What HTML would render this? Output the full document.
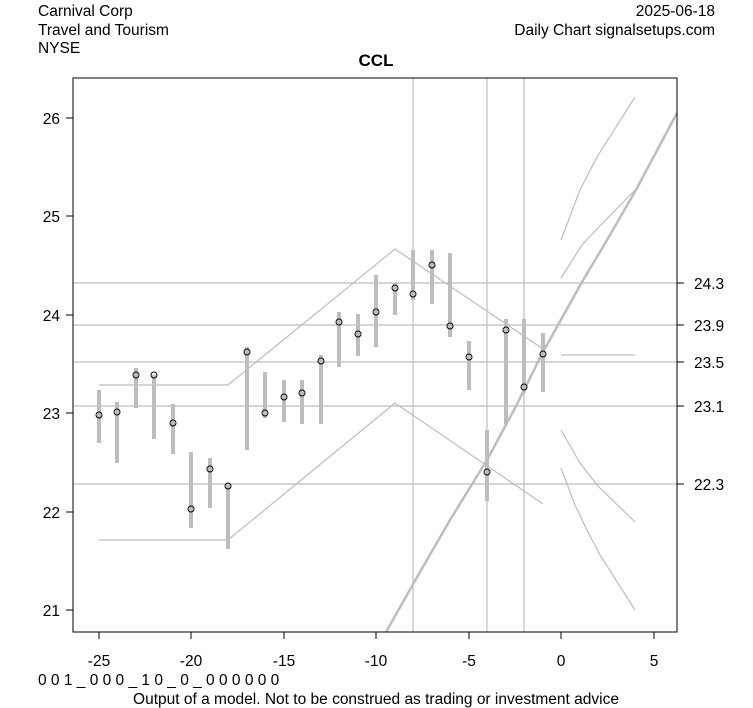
<!DOCTYPE html>
<html><head><meta charset="utf-8"><style>
body{margin:0;background:#fff}
svg{display:block;font-family:"Liberation Sans",Arial,sans-serif}
</style></head><body>
<svg width="753" height="708" xmlns="http://www.w3.org/2000/svg">
<rect width="753" height="708" fill="#fff"/>
<g font-size="15.5" fill="#000">
<text x="38" y="16">Carnival Corp</text>
<text x="38" y="35">Travel and Tourism</text>
<text x="38" y="53">NYSE</text>
<text x="715" y="16" text-anchor="end">2025-06-18</text>
<text x="715" y="35" text-anchor="end">Daily Chart signalsetups.com</text>
<text x="376" y="66" text-anchor="middle" font-weight="bold" font-size="17">CCL</text>
<text x="38" y="685">0 0 1 _ 0 0 0 _ 1 0 _ 0 _ 0 0 0 0 0 0</text>
<text x="376" y="704" text-anchor="middle">Output of a model. Not to be construed as trading or investment advice</text>
</g>
<g stroke="#bdbdbd" stroke-width="1.2" fill="none">
<line x1="73" y1="283" x2="677" y2="283"/><line x1="73" y1="325" x2="677" y2="325"/>
<line x1="73" y1="362" x2="677" y2="362"/><line x1="73" y1="406" x2="677" y2="406"/>
<line x1="73" y1="484" x2="677" y2="484"/>
<line x1="413" y1="78" x2="413" y2="632"/><line x1="487" y1="78" x2="487" y2="632"/><line x1="524" y1="78" x2="524" y2="632"/>
<polyline points="99,385 228,385 395,249 543,349"/>
<polyline points="99,540 228,540 395,403 543,504"/>
<polyline points="561,240 580,190 597,157 635,97"/>
<polyline points="561,278 582,245 598,228 635,190"/>
<line x1="561" y1="355" x2="635" y2="355"/>
<polyline points="561,430 580,463 597,485 635,522"/>
<polyline points="561,468 575,505 587,530 600,555 635,610"/>
</g>
<polyline points="386,632 420,572 450,520 487,460 515,408 543,352 582,282 610,235 637,188 677,113" stroke="#bdbdbd" stroke-width="2.5" fill="none"/>
<g stroke="#bdbdbd" stroke-width="4">
<line x1="99" y1="390" x2="99" y2="443"/><line x1="117" y1="402" x2="117" y2="463"/>
<line x1="136" y1="368" x2="136" y2="408"/><line x1="154" y1="375" x2="154" y2="439"/>
<line x1="173" y1="404" x2="173" y2="454"/><line x1="191" y1="452" x2="191" y2="528"/>
<line x1="210" y1="458" x2="210" y2="508"/><line x1="228" y1="483" x2="228" y2="549"/>
<line x1="247" y1="347" x2="247" y2="450"/><line x1="265" y1="372" x2="265" y2="418"/>
<line x1="284" y1="380" x2="284" y2="422"/><line x1="302" y1="380" x2="302" y2="424"/>
<line x1="321" y1="355" x2="321" y2="424"/><line x1="339" y1="312" x2="339" y2="367"/>
<line x1="358" y1="314" x2="358" y2="356"/><line x1="376" y1="275" x2="376" y2="347"/>
<line x1="395" y1="283" x2="395" y2="315"/><line x1="413" y1="250" x2="413" y2="300"/>
<line x1="432" y1="250" x2="432" y2="304"/><line x1="450" y1="253" x2="450" y2="337"/>
<line x1="469" y1="341" x2="469" y2="390"/><line x1="487" y1="430" x2="487" y2="501"/>
<line x1="506" y1="319" x2="506" y2="424"/><line x1="524" y1="319" x2="524" y2="393"/>
<line x1="543" y1="333" x2="543" y2="392"/>
</g>
<g stroke="#000" stroke-width="1" fill="none">
<circle cx="99" cy="415" r="3"/><circle cx="117" cy="412" r="3"/><circle cx="136" cy="375" r="3"/>
<circle cx="154" cy="375" r="3"/><circle cx="173" cy="423" r="3"/><circle cx="191" cy="509" r="3"/>
<circle cx="210" cy="469" r="3"/><circle cx="228" cy="486" r="3"/><circle cx="247" cy="352" r="3"/>
<circle cx="265" cy="413" r="3"/><circle cx="284" cy="397" r="3"/><circle cx="302" cy="393" r="3"/>
<circle cx="321" cy="361" r="3"/><circle cx="339" cy="322" r="3"/><circle cx="358" cy="334" r="3"/>
<circle cx="376" cy="312" r="3"/><circle cx="395" cy="288" r="3"/><circle cx="413" cy="294" r="3"/>
<circle cx="432" cy="265" r="3"/><circle cx="450" cy="326" r="3"/><circle cx="469" cy="357" r="3"/>
<circle cx="487" cy="472" r="3"/><circle cx="506" cy="330" r="3"/><circle cx="524" cy="387" r="3"/>
<circle cx="543" cy="354" r="3"/>
<rect x="73" y="78" width="604" height="554"/>
<line x1="66" y1="118" x2="73" y2="118"/><line x1="66" y1="216" x2="73" y2="216"/>
<line x1="66" y1="315" x2="73" y2="315"/><line x1="66" y1="413" x2="73" y2="413"/>
<line x1="66" y1="512" x2="73" y2="512"/><line x1="66" y1="610" x2="73" y2="610"/>
<line x1="677" y1="283" x2="684" y2="283"/><line x1="677" y1="325" x2="684" y2="325"/>
<line x1="677" y1="362" x2="684" y2="362"/><line x1="677" y1="406" x2="684" y2="406"/>
<line x1="677" y1="484" x2="684" y2="484"/>
<line x1="99" y1="632" x2="99" y2="639"/><line x1="191" y1="632" x2="191" y2="639"/>
<line x1="284" y1="632" x2="284" y2="639"/><line x1="376" y1="632" x2="376" y2="639"/>
<line x1="469" y1="632" x2="469" y2="639"/><line x1="561" y1="632" x2="561" y2="639"/>
<line x1="654" y1="632" x2="654" y2="639"/>
</g>
<g font-size="15.5" fill="#000">
<g text-anchor="end">
<text x="60" y="124">26</text><text x="60" y="222">25</text><text x="60" y="321">24</text>
<text x="60" y="419">23</text><text x="60" y="518">22</text><text x="60" y="616">21</text>
</g>
<text x="694" y="289">24.3</text><text x="694" y="331">23.9</text><text x="694" y="368">23.5</text>
<text x="694" y="412">23.1</text><text x="694" y="490">22.3</text>
<g text-anchor="middle">
<text x="99" y="666">-25</text><text x="191" y="666">-20</text><text x="284" y="666">-15</text>
<text x="376" y="666">-10</text><text x="469" y="666">-5</text><text x="561" y="666">0</text><text x="654" y="666">5</text>
</g>
</g>
</svg>
</body></html>
